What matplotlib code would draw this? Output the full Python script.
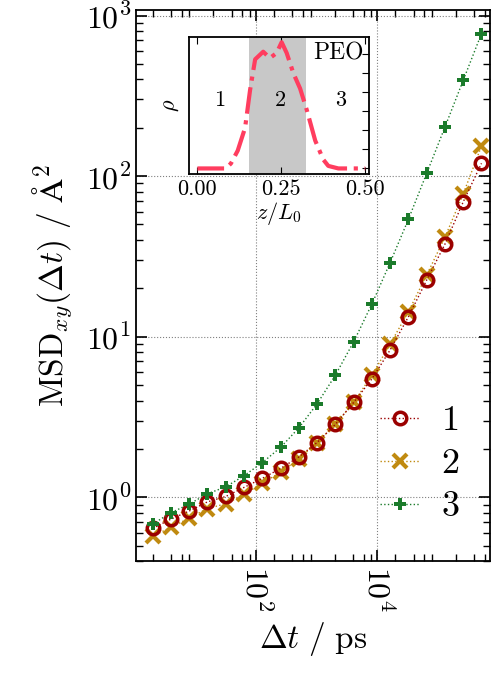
import numpy as np
import matplotlib
matplotlib.use("Agg")
import matplotlib.pyplot as plt
from matplotlib.ticker import LogLocator, FuncFormatter, NullFormatter, MaxNLocator

plt.rcParams["font.family"] = "cmr10"
plt.rcParams["mathtext.fontset"] = "cm"
plt.rcParams["axes.unicode_minus"] = False
plt.rcParams["axes.formatter.use_mathtext"] = True

# Zeitversatz in ps
lag = [2, 4, 8, 16, 32, 64, 128, 256, 512, 1024, 2048, 4096, 8192,
       16384, 32768, 65536, 131072, 262144, 524288]

# MSD_xy in Angstrom^2 fuer die drei Bereiche
msd_1 = [0.64, 0.73, 0.82, 0.935, 1.01, 1.15, 1.31, 1.51, 1.78, 2.19, 2.84,
         3.89, 5.45, 8.26, 13.3, 22.5, 37.7, 69.1, 120]
msd_2 = [0.57, 0.65, 0.74, 0.85, 0.91, 1.04, 1.22, 1.43, 1.73, 2.19, 2.84,
         3.89, 5.75, 8.98, 14.3, 24.2, 41.6, 77.4, 154]
msd_3 = [0.68, 0.80, 0.905, 1.05, 1.16, 1.36, 1.64, 2.04, 2.70, 3.81, 5.75,
         9.27, 15.95, 28.9, 53.8, 104, 202, 395, 772]
labels = ["1", "2", "3"]

# Dichteprofil PEO (Inset)
z = [0.0, 0.05, 0.085, 0.10, 0.12, 0.142, 0.157, 0.172, 0.196, 0.216, 0.236,
     0.251, 0.266, 0.286, 0.306, 0.326, 0.351, 0.375, 0.39, 0.42, 0.46, 0.5]
rho = [0.0, 0.0, 0.0, 0.04, 0.14, 0.32, 0.62, 0.86, 0.92, 0.87, 0.91,
       0.995, 0.91, 0.75, 0.63, 0.46, 0.22, 0.07, 0.02, 0.0, 0.0, 0.0]
region_2 = (0.155, 0.325)

fig = plt.figure(figsize=(4.91, 6.76), dpi=100)
ax = fig.add_axes([0.277, 0.170, 0.721, 0.815])

ax.plot(lag, msd_1, ls=":", lw=1, c="#9b0000", marker="o", ms=9, mfc="none",
        mew=2.5, label=labels[0], zorder=3)
ax.plot(lag, msd_2, ls=":", lw=1, c="#c08a10", marker="x", ms=10,
        mew=3, label=labels[1], zorder=2)
ax.plot(lag, msd_3, ls=":", lw=1, c="#1b7b2b", marker="P", ms=8.5,
        mew=0, label=labels[2], zorder=4)

ax.set_xscale("log")
ax.set_yscale("log")
ax.set_xlim(10**0.027, 10**5.86)
ax.set_ylim(0.4, 1080)

ax.xaxis.set_major_locator(LogLocator(base=100))
ax.xaxis.set_minor_locator(LogLocator(base=100, subs=(2, 4, 6, 8, 20, 40, 60, 80)))
ax.xaxis.set_minor_formatter(NullFormatter())
ax.yaxis.set_major_locator(LogLocator(base=10))
ax.yaxis.set_minor_locator(LogLocator(base=10, subs=np.arange(2, 10)))
ax.yaxis.set_minor_formatter(NullFormatter())
fmt = FuncFormatter(lambda v, p: r"$10^{%d}$" % int(round(np.log10(v))))
ax.xaxis.set_major_formatter(fmt)
ax.yaxis.set_major_formatter(fmt)

ax.tick_params(which="both", direction="in", top=True, right=True, labelsize=23)
ax.tick_params(which="major", length=8, width=1.2)
ax.tick_params(which="minor", length=5, width=1.0)
plt.setp(ax.get_xticklabels(), rotation=-90)
for s in ax.spines.values():
    s.set_linewidth(1.3)
ax.grid(True, which="major", ls=":", c="gray", lw=0.8)

ax.set_xlabel(r"$\Delta t\ /\ \mathrm{ps}$", fontsize=24, labelpad=6)
ax.set_ylabel(r"$\mathrm{MSD}_{xy}(\Delta t)\ /\ \mathrm{\AA}^2$", fontsize=24, labelpad=8)

ax.legend(loc="center left", bbox_to_anchor=(0.69, 0.176), frameon=False,
          fontsize=26, handlelength=1.1, handletextpad=0.6, labelspacing=0.3,
          borderpad=0, borderaxespad=0)

# Inset
ins = fig.add_axes([0.385, 0.742, 0.367, 0.204])
ins.axvspan(region_2[0], region_2[1], color="#c8c8c8", lw=0)
ins.plot(z, rho, ls="-.", lw=3, c="#ff3d5f")
ins.set_xlim(-0.025, 0.512)
ins.set_ylim(-0.047, 1.04)
ins.set_xticks([0.0, 0.25, 0.5])
ins.set_xticklabels(["0.00", "0.25", "0.50"])
ins.yaxis.set_major_locator(MaxNLocator(8))
ins.tick_params(axis="x", direction="in", top=True, labelsize=16, length=5)
ins.tick_params(axis="y", direction="in", left=False, right=True,
                labelleft=False, length=5)
for s in ins.spines.values():
    s.set_linewidth(1.3)
ins.set_xlabel(r"$z/L_0$", fontsize=16, labelpad=1)
ins.set_ylabel(r"$\rho$", fontsize=16, labelpad=6)
ins.text(0.067, 0.54, "1", fontsize=16, ha="center", va="center")
ins.text(0.246, 0.54, "2", fontsize=16, ha="center", va="center")
ins.text(0.426, 0.54, "3", fontsize=16, ha="center", va="center")
ins.text(0.495, 0.91, "PEO", fontsize=17, ha="right", va="center")

fig.savefig("out.png", dpi=100)
